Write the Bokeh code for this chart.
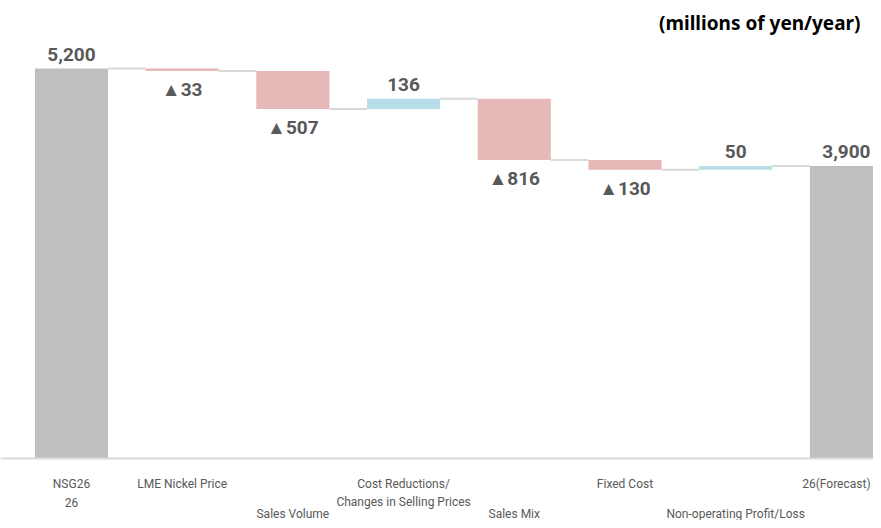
from bokeh.plotting import figure
from bokeh.models import Range1d, Span, Label, ColumnDataSource
from bokeh.core.properties import value
from bokeh.embed import file_html
from bokeh.resources import INLINE

# ---- data ----
row1_labels = ["NSG26", "LME Nickel Price", "", "Cost Reductions/", "", "Fixed Cost", "", "26(Forecast)"]
row2_labels = ["26", "", "", "Changes in Selling Prices", "", "", "", ""]
row3_labels = ["", "", "Sales Volume", "", "Sales Mix", "", "Non-operating Profit/Loss", ""]
changes = [5200, -33, -507, 136, -816, -130, 50, 3900]
kinds = ["total", "delta", "delta", "delta", "delta", "delta", "delta", "total"]
unit_note = "(millions of yen/year)"

GRAY, RED, BLUE = "#bfbfbf", "#e6b8b7", "#b7dee8"
TXT = "#595959"
W = 0.66

n = len(changes)
xs = list(range(n))
bottoms, tops, colors, labels = [], [], [], []
running = 0
ends = []
for i, (c, k) in enumerate(zip(changes, kinds)):
    if k == "total":
        bottoms.append(0); tops.append(c); colors.append(GRAY)
        labels.append(f"{c:,}")
        running = c
    else:
        new = running + c
        bottoms.append(min(running, new)); tops.append(max(running, new))
        colors.append(RED if c < 0 else BLUE)
        labels.append(f"▲{abs(c):,}" if c < 0 else f"{c:,}")
        running = new
    ends.append(running)

p = figure(width=873, height=520, output_backend="svg", toolbar_location=None,
           x_range=Range1d(-0.641, 7.245), y_range=Range1d(-826.7, 6106.7),
           min_border=0, min_border_left=0, min_border_right=0,
           min_border_top=0, min_border_bottom=0)
p.xaxis.visible = False
p.yaxis.visible = False
p.xgrid.visible = False
p.ygrid.visible = False
p.outline_line_color = None
p.background_fill_color = "white"

p.add_layout(Span(location=0, dimension="width", line_color="#d9d9d9", line_width=2))

src = ColumnDataSource(dict(x=xs, bottom=bottoms, top=tops, color=colors))
p.vbar(x="x", bottom="bottom", top="top", width=W, fill_color="color", line_color=None, source=src)

# connectors
cx0 = [i + W / 2 for i in range(n - 1)]
cx1 = [i + 1 - W / 2 for i in range(n - 1)]
cy = ends[:-1]
p.segment(x0=cx0, y0=cy, x1=cx1, y1=cy, line_color="#d9d9d9", line_width=2)

# value labels
up_x, up_y, up_t, dn_x, dn_y, dn_t = [], [], [], [], [], []
for i, c in enumerate(changes):
    if c >= 0:
        up_x.append(i); up_y.append(tops[i]); up_t.append(labels[i])
    else:
        dn_x.append(i); dn_y.append(bottoms[i]); dn_t.append(labels[i])
p.text(x=up_x, y=up_y, text=up_t, text_align="center", text_baseline="bottom", y_offset=-8,
       text_font=value("Roboto"), text_font_style="bold", text_font_size="19px", text_color=TXT)
p.text(x=dn_x, y=dn_y, text=dn_t, text_align="center", text_baseline="top", y_offset=7,
       text_font=value("Roboto"), text_font_style="bold", text_font_size="19px", text_color=TXT)

# category labels
for rows, off in ((row1_labels, 26), (row2_labels, 44), (row3_labels, 56)):
    p.text(x=xs[:-1], y=[0] * (n - 1), text=rows[:-1], text_align="center", text_baseline="middle",
           y_offset=off, text_font=value("Roboto"), text_font_size="12px", text_color=TXT)
    p.text(x=xs[-1:], y=[0], text=rows[-1:], text_align="center", text_baseline="middle",
           y_offset=off, x_offset=-10, text_font=value("Roboto"), text_font_size="12px", text_color=TXT)

p.add_layout(Label(x=860, y=498, x_units="screen", y_units="screen", text=unit_note,
                   text_align="right", text_baseline="middle", text_font="Noto Sans",
                   text_font_style="bold", text_font_size="19px", text_color="black"))

open("out.html", "w").write(file_html(p, INLINE))
